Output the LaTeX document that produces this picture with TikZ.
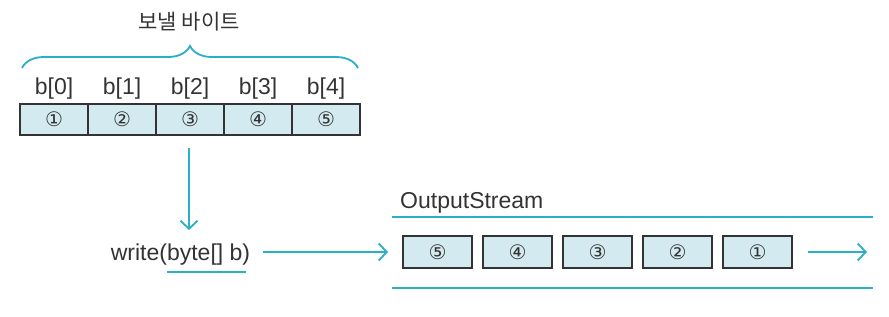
\documentclass[tikz,border=0pt]{standalone}
\usepackage{fontspec}
\setmainfont{Liberation Sans}
\newfontfamily\krfont{Noto Sans CJK KR}
\newfontfamily\symfont{DejaVu Sans}
\usetikzlibrary{arrows.meta,decorations.pathreplacing}
\definecolor{cyanline}{HTML}{2AAFC8}
\definecolor{cellfill}{HTML}{D3EAF0}
\definecolor{txt}{HTML}{333333}
\begin{document}
\begin{tikzpicture}[x=1pt,y=-1pt,
  cell/.style={draw=black!80,line width=1.6pt,fill=cellfill,minimum width=68pt,minimum height=31pt,inner sep=0pt,font=\symfont\fontsize{20}{20}\selectfont,text=txt},
  scell/.style={cell,minimum width=69pt,minimum height=32pt},
  lbl/.style={font=\fontsize{23}{23}\selectfont,text=txt,inner sep=0pt},
  cline/.style={draw=cyanline,line width=1.8pt},
  arr/.style={cline,-{Straight Barb[length=8pt,width=17pt,line width=1.8pt]}}]
\useasboundingbox (0,0) rectangle (889,316);
% top array
\foreach \i/\n in {0/①,1/②,2/③,3/④,4/⑤}{
  \node[cell] (c\i) at ({54+68*\i},119.5) {\n};
  \node[lbl,anchor=base] (b\i) at ({54+68*\i},94) {b[\i]};
}
\draw[cline,decorate,decoration={brace,amplitude=22pt,aspect=0.5}] (22,68) -- (358,68);
\node[font=\krfont\fontsize{21}{21}\selectfont,text=txt,inner sep=0pt] (title) at (189,22) {보낼 바이트};
% write
\node[lbl,anchor=base] (write) at (180.5,260) {write(byte[] b)};
\coordinate (dn) at (189,148);
\coordinate (dnend) at (189,230);
\draw[arr] (dn) -- (dnend);
\coordinate (ul) at (167,272); \coordinate (ur) at (246,272);
\draw[cline] (ul) -- (ur);
% stream
\node[lbl,anchor=base west] (os) at (400,208) {OutputStream};
\coordinate (tl) at (392,217); \coordinate (tr) at (873,217);
\coordinate (bl) at (392,288); \coordinate (br) at (873,288);
\draw[cline] (tl) -- (tr);
\draw[cline] (bl) -- (br);
\foreach \i/\n in {0/⑤,1/④,2/③,3/②,4/①}{
  \node[scell] (s\i) at ({437.5+80*\i},252) {\n};
}
\coordinate (wa) at (263,252);
\coordinate (wb) at (388,252);
\draw[arr] (wa) -- (wb);
\coordinate (oa) at (808,252);
\coordinate (ob) at (867,252);
\draw[arr] (oa) -- (ob);
\end{tikzpicture}
\end{document}
